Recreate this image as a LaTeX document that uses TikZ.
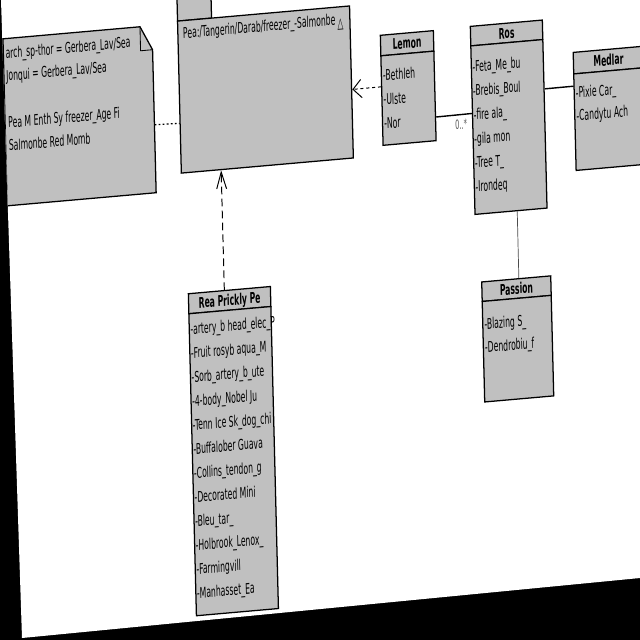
\documentclass[tikz,border=0pt]{standalone}
\usepackage{fontspec}
\setmainfont{DejaVu Sans}[FakeStretch=0.52]
\usetikzlibrary{arrows.meta,calc}

\definecolor{umlgray}{RGB}{192,192,192}
\newcommand{\pxunit}{0.025cm}

\tikzset{
    box/.style={draw, fill=umlgray, line width=0.9pt, inner sep=0pt, anchor=north west, transform shape},
    head/.style={box, font=\fontsize{10.5}{12}\selectfont\bfseries, text height=1.6ex, text depth=0.2ex},
    attr/.style={anchor=west, inner sep=0pt, yshift=-2pt, font=\fontsize{10.5}{12}\selectfont, text height=1.6ex, text depth=0.4ex, transform shape},
    assoc/.style={line width=1pt},
    realize/.style={line width=0.7pt, dash pattern=on 5.5pt off 3pt},
    usage/.style={line width=0.7pt, dash pattern=on 2.2pt off 2pt},
    noteline/.style={line width=0.9pt, dash pattern=on 1.3pt off 1.6pt},
}

\begin{document}
\begin{tikzpicture}[x=0.025cm, y=-0.025cm]
    \useasboundingbox (0,0) rectangle (640,640);
    \fill[black] (0,0) rectangle (640,640);

    \begin{scope}
    \clip (1,0) -- (22,638) -- (640,578) -- (640,0) -- cycle;
    \fill[white] (0,0) rectangle (640,640);

    \begin{scope}[cm={1,0.088,-0.025,1,(0,0)}]
    % Note
    \draw[fill=umlgray, line width=0.9pt] (2,39) -- (139,39) -- (151,63) -- (151,206) -- (2,206) -- cycle;
    \draw[line width=0.6pt] (139,39) -- (139,63) -- (151,63);
    \node[attr] (notea) at (4,51.5) {arch\_sp-thor = Gerbera\_Lav/Sea};
    \node[attr] (noteb) at (4,74) {Jonqui = Gerbera\_Lav/Sea};
    \node[attr] (notec) at (5,121) {Pea M Enth Sy freezer\_Age Fi};
    \node[attr] (noted) at (5,144) {Salmonbe Red Momb};
    \coordinate (noteport) at (151,138);

    % Package
    \node[box, minimum width=34*\pxunit, minimum height=30*\pxunit] (pkgtab) at (176,6) {};
    \node[box, minimum width=172*\pxunit, minimum height=152*\pxunit] (pkg) at (176,36) {};
    \node[attr, anchor=center] (pkgname) at (258,47) {Pea:/Tangerin/Darab/freezer\_-Salmonbe};
    \node[attr, anchor=center] (pkgicon) at (339,51) {△};

    % Lemon
    \node[head, minimum width=53*\pxunit, minimum height=20.5*\pxunit] (lemon) at (378,68) {Lemon};
    \node[box, minimum width=53*\pxunit, minimum height=89.5*\pxunit] (lemonbody) at (378,88.5) {};
    \node[attr] (lemon1) at (380,107) {-Bethleh};
    \node[attr] (lemon2) at (380,131) {-Ulste};
    \node[attr] (lemon3) at (380,155) {-Nor};

    % Ros
    \node[head, minimum width=72*\pxunit, minimum height=19.5*\pxunit] (ros) at (468,67) {Ros};
    \node[box, minimum width=72*\pxunit, minimum height=168.5*\pxunit] (rosbody) at (468,86.5) {};
    \node[attr] (ros1) at (469.5,106) {-Feta\_Me\_bu};
    \node[attr] (ros2) at (469.5,130) {-Brebis\_Boul};
    \node[attr] (ros3) at (469.5,154) {-fire ala\_};
    \node[attr] (ros4) at (469.5,178) {-gila mon};
    \node[attr] (ros5) at (469.5,202) {-Tree T\_};
    \node[attr] (ros6) at (469.5,226) {-Irondeq};

    % Medlar
    \node[head, minimum width=70*\pxunit, minimum height=21.5*\pxunit] (medlar) at (570,102) {Medlar};
    \node[box, minimum width=70*\pxunit, minimum height=96.5*\pxunit] (medlarbody) at (570,123.5) {};
    \node[attr] (medlar1) at (572,141) {-Pixie Car\_};
    \node[attr] (medlar2) at (572,164) {-Candytu Ach};

    % Passion
    \node[head, minimum width=69*\pxunit, minimum height=19.5*\pxunit] (passion) at (473,323) {Passion};
    \node[box, minimum width=69*\pxunit, minimum height=100.5*\pxunit] (passionbody) at (473,342.5) {};
    \node[attr] (passion1) at (475,364) {-Blazing S\_};
    \node[attr] (passion2) at (475,387) {-Dendrobiu\_f};

    % Rea Prickly Pe
    \node[head, minimum width=82*\pxunit, minimum height=20*\pxunit] (rea) at (180,309) {Rea Prickly Pe};
    \node[box, minimum width=82*\pxunit, minimum height=302*\pxunit] (reabody) at (180,329) {};
    \node[attr] (rea1) at (181.5,343) {-artery\_b head\_elec\_P};
    \node[attr] (rea2) at (181.5,367) {-Fruit rosyb aqua\_M};
    \node[attr] (rea3) at (181.5,391) {-Sorb\_artery\_b\_ute};
    \node[attr] (rea4) at (181.5,415) {-4-body\_Nobel Ju};
    \node[attr] (rea5) at (181.5,439) {-Tenn Ice Sk\_dog\_chi};
    \node[attr] (rea6) at (181.5,463) {-Buffalober Guava};
    \node[attr] (rea7) at (181.5,487) {-Collins\_tendon\_g};
    \node[attr] (rea8) at (181.5,511) {-Decorated Mini};
    \node[attr] (rea9) at (181.5,535) {-Bleu\_tar\_};
    \node[attr] (rea10) at (181.5,559) {-Holbrook\_Lenox\_};
    \node[attr] (rea11) at (181.5,583) {-Farmingvill};
    \node[attr] (rea12) at (181.5,607) {-Manhasset\_Ea};

    % Links
    \draw[noteline] (noteport) -- ($(pkg.north west)!0.671!(pkg.south west)$);
    \draw[usage, -{Straight Barb[length=6pt, width=13pt, line width=0.7pt]}]
        ($(lemon.north west)!0.468!(lemonbody.south west)$) -- ($(pkg.north east)!0.549!(pkg.south east)$);
    \draw[realize, -{Straight Barb[length=12pt, width=7pt, line width=0.7pt]}]
        ($(rea.north west)!0.439!(rea.north east)$) -- ($(pkg.south west)!0.233!(pkg.south east)$);
    \draw[assoc] ($(lemon.north east)!0.782!(lemonbody.south east)$) -- ($(ros.north west)!0.463!(rosbody.south west)$);
    \node[attr, anchor=center, font=\fontsize{9}{10}\selectfont, text=black!65] (mult) at (457,162) {0..*};
    \draw[assoc] ($(ros.north east)!0.367!(rosbody.south east)$) -- ($(medlar.north west)!0.288!(medlarbody.south west)$);
    \draw[line width=0.5pt, black!70] ($(rosbody.south west)!0.583!(rosbody.south east)$) -- ($(passion.north west)!0.536!(passion.north east)$);
    \end{scope}
    \end{scope}
\end{tikzpicture}
\end{document}
